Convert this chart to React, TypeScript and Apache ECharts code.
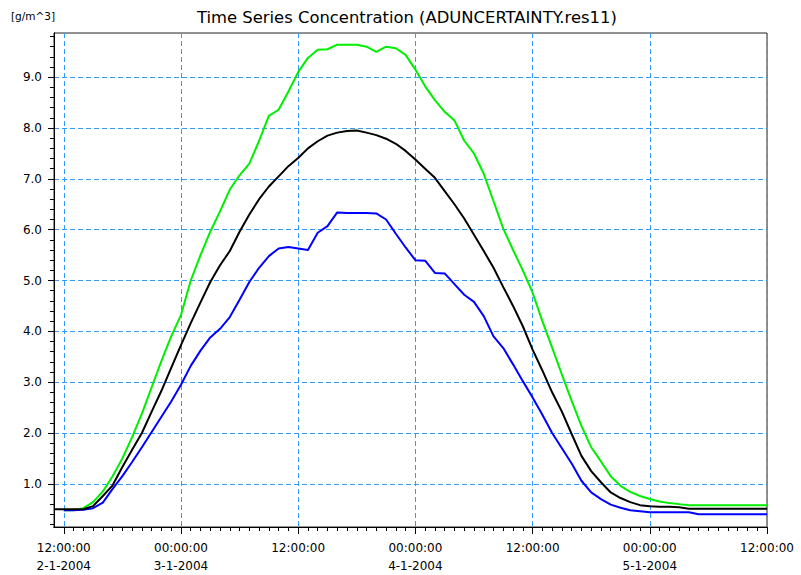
import { useEffect, useRef } from 'react';
import * as echarts from 'echarts';

// Sampling times: hours after 12:00:00 on 2-1-2004
const hours = [
  -1, 0, 1, 2, 3, 4, 5, 6, 7, 8, 9, 10, 11, 12, 13, 14, 15, 16, 17, 18, 19, 20, 21, 22, 23, 24,
  25, 26, 27, 28, 29, 30, 31, 32, 33, 34, 35, 36, 37, 38, 39, 40, 41, 42, 43, 44, 45, 46, 47, 48,
  49, 50, 51, 52, 53, 54, 55, 56, 57, 58, 59, 60, 61, 62, 63, 64, 65, 66, 67, 68, 69, 70, 71, 72,
];

const blackValues = [
  0.5, 0.5, 0.5, 0.5, 0.56, 0.76, 0.97, 1.33, 1.67, 2.0, 2.42, 2.83, 3.28, 3.73, 4.16, 4.57, 4.97,
  5.3, 5.58, 5.96, 6.3, 6.6, 6.85, 7.05, 7.25, 7.41, 7.6, 7.74, 7.85, 7.91, 7.94, 7.95, 7.91, 7.86,
  7.79, 7.69, 7.55, 7.38, 7.2, 7.02, 6.76, 6.5, 6.22, 5.9, 5.58, 5.25, 4.87, 4.5, 4.1, 3.64, 3.23,
  2.8, 2.42, 1.98, 1.55, 1.25, 1.03, 0.83, 0.72, 0.64, 0.58, 0.56, 0.55, 0.55, 0.54, 0.51, 0.51,
  0.51, 0.51, 0.51, 0.51, 0.51, 0.51, 0.51,
];

const greenValues = [
  null, 0.48, 0.48, 0.52, 0.64, 0.85, 1.15, 1.5, 1.92, 2.38, 2.9, 3.42, 3.9, 4.32, 5.0, 5.5, 5.96,
  6.36, 6.79, 7.07, 7.3, 7.75, 8.24, 8.36, 8.72, 9.1, 9.38, 9.54, 9.55, 9.64, 9.64, 9.64, 9.6, 9.5,
  9.6, 9.57, 9.44, 9.15, 8.82, 8.55, 8.32, 8.15, 7.75, 7.5, 7.1, 6.56, 6.02, 5.6, 5.2, 4.76, 4.2,
  3.68, 3.15, 2.63, 2.14, 1.72, 1.44, 1.15, 0.96, 0.84, 0.76, 0.7, 0.65, 0.62, 0.6, 0.58, 0.58,
  0.58, 0.58, 0.58, 0.58, 0.58, 0.58, 0.58,
];

const blueValues = [
  null, 0.48, 0.48, 0.49, 0.52, 0.63, 0.9, 1.15, 1.43, 1.72, 2.02, 2.32, 2.62, 2.95, 3.32, 3.62,
  3.88, 4.05, 4.28, 4.62, 4.97, 5.25, 5.48, 5.63, 5.66, 5.63, 5.6, 5.94, 6.07, 6.34, 6.33, 6.33,
  6.33, 6.32, 6.2, 5.92, 5.65, 5.4, 5.39, 5.15, 5.14, 4.93, 4.72, 4.58, 4.3, 3.9, 3.67, 3.35, 3.02,
  2.7, 2.36, 2.0, 1.7, 1.4, 1.06, 0.83, 0.7, 0.59, 0.53, 0.48, 0.46, 0.44, 0.44, 0.44, 0.44, 0.44,
  0.4, 0.4, 0.4, 0.4, 0.4, 0.4, 0.4, 0.4,
];

const xTickHours = [0, 12, 24, 36, 48, 60, 72];
const xTickLabels = [
  '12:00:00\n2-1-2004',
  '00:00:00\n3-1-2004',
  '12:00:00',
  '00:00:00\n4-1-2004',
  '12:00:00',
  '00:00:00\n5-1-2004',
  '12:00:00',
];
const xMinorHours = hours.filter((h) => h >= 0);

const yTickValues = [1, 2, 3, 4, 5, 6, 7, 8, 9];
const yTickLabels = ['1.0', '2.0', '3.0', '4.0', '5.0', '6.0', '7.0', '8.0', '9.0'];
const yMinorValues = Array.from({ length: 49 }, (_, i) => Math.round((i + 1) * 2) / 10);

const title = 'Time Series Concentration (ADUNCERTAINTY.res11)';
const unitLabel = '[g/m^3]';

const X_MIN = -1;
const X_MAX = 72;
const Y_MIN = 0.15;
const Y_MAX = 9.87;

const FONT = 'DejaVu Sans';
const GRID_COLOR = '#3399ff';

function pairs(values: (number | null)[]) {
  return hours.map((h, i) => [h, values[i]]);
}

export default function App() {
  const ref = useRef<HTMLDivElement>(null);

  useEffect(() => {
    if (!ref.current) return;
    const chart = echarts.init(ref.current, null, { renderer: 'svg' });
    const lineSeries = (name: string, values: (number | null)[], color: string) => ({
      name,
      type: 'line',
      xAxisIndex: 0,
      yAxisIndex: 0,
      data: pairs(values),
      showSymbol: false,
      symbol: 'none',
      smooth: false,
      connectNulls: false,
      lineStyle: { color, width: 2 },
      itemStyle: { color },
    });

    const minorX = {
      type: 'value',
      position: 'bottom',
      min: X_MIN,
      max: X_MAX,
      axisLine: { show: true, onZero: false, lineStyle: { color: '#000', width: 1 } },
      axisTick: {
        show: true,
        length: 4,
        customValues: xMinorHours,
        lineStyle: { color: '#000', width: 1 },
      },
      axisLabel: { show: true, formatter: () => '' },
      splitLine: { show: false },
    };
    const minorY = {
      type: 'value',
      position: 'left',
      min: Y_MIN,
      max: Y_MAX,
      axisLine: { show: true, onZero: false, lineStyle: { color: '#000', width: 1 } },
      axisTick: {
        show: true,
        length: 4,
        customValues: yMinorValues,
        lineStyle: { color: '#000', width: 1 },
      },
      axisLabel: { show: true, formatter: () => '' },
      splitLine: { show: false },
    };

    chart.setOption({
      animation: false,
      backgroundColor: '#ffffff',
      title: {
        text: title,
        left: 197,
        top: 9,
        padding: 0,
        textStyle: { fontFamily: FONT, fontSize: 16.4, fontWeight: 'normal', color: '#000' },
      },
      graphic: [
        {
          type: 'text',
          left: 11,
          top: 10,
          style: { text: unitLabel, font: `10.5px "${FONT}"`, fill: '#000' },
        },
      ],
      grid: {
        left: 54,
        right: 34,
        top: 33,
        bottom: 47,
        show: true,
        borderColor: '#222',
        borderWidth: 1,
        backgroundColor: 'transparent',
      },
      xAxis: [
        {
          type: 'value',
          position: 'bottom',
          min: X_MIN,
          max: X_MAX,
          axisLine: { show: true, onZero: false, lineStyle: { color: '#000', width: 1 } },
          axisTick: {
            show: true,
            length: 7,
            customValues: xTickHours,
            lineStyle: { color: '#000', width: 1 },
          },
          axisLabel: {
            show: true,
            customValues: xTickHours,
            margin: 12,
            color: '#000',
            fontFamily: FONT,
            fontSize: 12,
            lineHeight: 18,
            formatter: (v: number) => {
              const i = xTickHours.indexOf(Math.round(v));
              return i >= 0 ? xTickLabels[i] : '';
            },
          },
          splitLine: {
            show: true,
            lineStyle: { color: GRID_COLOR, width: 1, type: [5, 3] },
          },
        },
        minorX,
      ],
      yAxis: [
        {
          type: 'value',
          position: 'left',
          min: Y_MIN,
          max: Y_MAX,
          splitNumber: 10,
          axisLine: { show: true, onZero: false, lineStyle: { color: '#000', width: 1 } },
          axisTick: {
            show: true,
            length: 6,
            customValues: yTickValues,
            lineStyle: { color: '#000', width: 1 },
          },
          axisLabel: {
            show: true,
            customValues: yTickValues,
            margin: 12,
            color: '#000',
            fontFamily: FONT,
            fontSize: 12,
            formatter: (v: number) => {
              const i = yTickValues.indexOf(Math.round(v));
              return i >= 0 ? yTickLabels[i] : '';
            },
          },
          splitLine: {
            show: true,
            lineStyle: { color: GRID_COLOR, width: 1, type: [5, 3] },
          },
        },
        minorY,
      ],
      series: [
        // invisible carrier bound to the minor-tick axes
        {
          name: 'minorTicks',
          type: 'line',
          xAxisIndex: 1,
          yAxisIndex: 1,
          data: pairs(blackValues),
          symbol: 'none',
          silent: true,
          lineStyle: { opacity: 0, width: 0 },
          itemStyle: { opacity: 0 },
          z: 0,
        },
        lineSeries('Upper', greenValues, '#00ee00'),
        lineSeries('Lower', blueValues, '#0000ff'),
        lineSeries('Mean', blackValues, '#000000'),
      ],
    });

    return () => {
      chart.dispose();
    };
  }, []);

  return (
    <div
      ref={ref}
      style={{ position: 'absolute', left: 0, top: 0, width: 801, height: 575, background: '#fff' }}
    />
  );
}
